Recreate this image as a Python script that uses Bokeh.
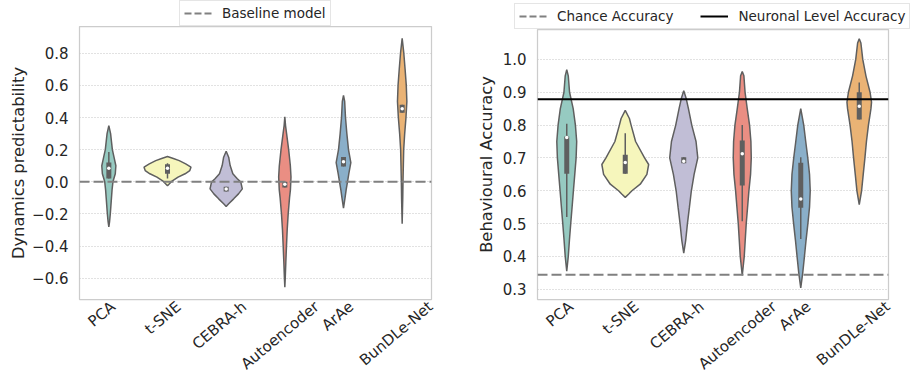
import math
from bokeh.plotting import figure
from bokeh.models import (Range1d, Span, Legend, LegendItem,
                          CustomJSTickFormatter, FixedTicker)
from bokeh.layouts import row, column
from bokeh.embed import file_html
from bokeh.resources import INLINE

# ---------------- data ----------------
categories = ["PCA", "t-SNE", "CEBRA-h", "Autoencoder", "ArAe", "BunDLe-Net"]
fill_colors = ["#96cac1", "#f6f6bc", "#c1bed6", "#ea8e83", "#8aafc9", "#eab375"]

# Left panel: dynamics predictability — violin outlines (value levels, half widths)
dyn_kde_y = [
    [0.35, 0.30, 0.25, 0.20, 0.15, 0.10, 0.05, 0.0, -0.05, -0.10, -0.15, -0.20, -0.25, -0.28],
    [0.157, 0.145, 0.132, 0.112, 0.091, 0.070, 0.050, 0.029, 0.002, -0.025],
    [0.190, 0.153, 0.101, 0.050, 0.019, -0.002, -0.044, -0.075, -0.106, -0.137, -0.154],
    [0.405, 0.35, 0.30, 0.20, 0.10, 0.03, -0.05, -0.10, -0.20, -0.30, -0.40, -0.50, -0.60, -0.655],
    [0.537, 0.50, 0.40, 0.30, 0.20, 0.12, 0.05, 0.0, -0.05, -0.10, -0.164],
    [0.893, 0.80, 0.70, 0.60, 0.50, 0.40, 0.30, 0.20, 0.10, 0.0, -0.10, -0.26],
]
dyn_kde_w = [
    [0, 0.03, 0.045, 0.06, 0.09, 0.12, 0.11, 0.07, 0.055, 0.045, 0.035, 0.025, 0.012, 0],
    [0, 0.10, 0.20, 0.31, 0.40, 0.38, 0.30, 0.18, 0.07, 0],
    [0, 0.043, 0.068, 0.114, 0.19, 0.25, 0.275, 0.21, 0.128, 0.043, 0],
    [0, 0.012, 0.03, 0.065, 0.094, 0.105, 0.095, 0.08, 0.057, 0.04, 0.028, 0.017, 0.007, 0],
    [0, 0.02, 0.034, 0.057, 0.085, 0.125, 0.09, 0.068, 0.045, 0.026, 0],
    [0, 0.028, 0.05, 0.07, 0.08, 0.065, 0.043, 0.026, 0.02, 0.014, 0.01, 0],
]
dyn_q1 = [0.02, 0.05, -0.06, -0.035, 0.095, 0.43]
dyn_q3 = [0.12, 0.11, -0.03, 0.0, 0.155, 0.48]
dyn_lo = [0.02, 0.02, -0.06, -0.035, 0.095, 0.43]
dyn_hi = [0.185, 0.115, -0.03, 0.0, 0.155, 0.48]
dyn_med = [0.085, 0.085, -0.045, -0.015, 0.125, 0.455]
baseline_value = 0.0
dyn_ticks = [-0.6, -0.4, -0.2, 0.0, 0.2, 0.4, 0.6, 0.8]

# Right panel: behavioural accuracy
beh_kde_y = [
    [0.969, 0.95, 0.90, 0.85, 0.80, 0.75, 0.70, 0.65, 0.60, 0.55, 0.50, 0.45, 0.40, 0.355],
    [0.845, 0.82, 0.80, 0.75, 0.70, 0.68, 0.65, 0.62, 0.60, 0.59, 0.58],
    [0.905, 0.88, 0.85, 0.80, 0.75, 0.70, 0.65, 0.60, 0.55, 0.50, 0.45, 0.41],
    [0.963, 0.95, 0.90, 0.85, 0.80, 0.75, 0.70, 0.65, 0.60, 0.55, 0.50, 0.45, 0.40, 0.342],
    [0.85, 0.80, 0.75, 0.70, 0.65, 0.60, 0.55, 0.50, 0.45, 0.40, 0.35, 0.304],
    [1.063, 1.05, 1.00, 0.95, 0.90, 0.87, 0.85, 0.80, 0.75, 0.70, 0.65, 0.60, 0.558],
]
beh_kde_w = [
    [0, 0.026, 0.048, 0.11, 0.148, 0.17, 0.16, 0.137, 0.114, 0.091, 0.068, 0.046, 0.026, 0],
    [0, 0.071, 0.10, 0.177, 0.33, 0.40, 0.37, 0.256, 0.114, 0.06, 0],
    [0, 0.043, 0.08, 0.137, 0.21, 0.24, 0.177, 0.13, 0.097, 0.063, 0.034, 0],
    [0, 0.028, 0.048, 0.085, 0.125, 0.148, 0.154, 0.142, 0.114, 0.091, 0.068, 0.051, 0.034, 0],
    [0, 0.051, 0.085, 0.12, 0.15, 0.162, 0.15, 0.122, 0.091, 0.063, 0.034, 0],
    [0, 0.028, 0.06, 0.114, 0.185, 0.21, 0.20, 0.157, 0.123, 0.097, 0.068, 0.04, 0],
]
beh_q1 = [0.652, 0.652, 0.684, 0.616, 0.548, 0.817]
beh_q3 = [0.765, 0.71, 0.702, 0.753, 0.685, 0.90]
beh_lo = [0.52, 0.652, 0.684, 0.507, 0.453, 0.817]
beh_hi = [0.804, 0.775, 0.702, 0.80, 0.702, 0.93]
beh_med = [0.762, 0.686, 0.69, 0.713, 0.575, 0.857]
chance_value = 0.344
neuronal_value = 0.879
beh_ticks = [0.3, 0.4, 0.5, 0.6, 0.7, 0.8, 0.9, 1.0]

# ---------------- style ----------------
FONT = "DejaVu Sans"
TXT = "#262626"
EDGE = "#5f5f5f"
ANG = math.radians(40)
TICK_PX = 15
FIG_W = 455


def make_panel(ylabel, y_lo, y_hi, ticks, kde_y, kde_w, q1, q3, lo, hi, med,
               height, border_left, border_right, border_bottom, label_standoff):
    n = len(categories)
    p = figure(width=FIG_W, height=height, x_range=Range1d(0, n),
               y_range=Range1d(y_lo, y_hi), output_backend="svg", toolbar_location=None,
               min_border_left=border_left, min_border_right=border_right,
               min_border_top=0, min_border_bottom=border_bottom)
    p.background_fill_color = "white"
    p.border_fill_color = "white"
    p.outline_line_color = "#cccccc"
    p.outline_line_width = 1.25
    p.xgrid.grid_line_color = None
    p.ygrid.grid_line_color = "#c4c4c4"
    p.ygrid.grid_line_dash = "1 2"
    p.ygrid.grid_line_width = 1

    ax = p.yaxis[0]
    ax.ticker = FixedTicker(ticks=ticks)
    ax.formatter = CustomJSTickFormatter(code="return tick.toFixed(1).replace('-', '\u2212');")
    ax.axis_line_color = None
    ax.major_tick_line_color = None
    ax.minor_tick_line_color = None
    ax.major_tick_out = 0
    ax.major_label_text_font = FONT
    ax.major_label_text_font_size = f"{TICK_PX}px"
    ax.major_label_text_color = TXT
    ax.major_label_standoff = 11
    ax.axis_label = ylabel
    ax.axis_label_text_font = FONT
    ax.axis_label_text_font_size = "16.3px"
    ax.axis_label_text_font_style = "normal"
    ax.axis_label_text_color = TXT
    ax.axis_label_standoff = label_standoff

    centers = [i + 0.5 for i in range(n)]
    for i in range(n):
        c = centers[i]
        ys = list(kde_y[i]) + list(reversed(kde_y[i]))
        xs = [c + w for w in kde_w[i]] + [c - w for w in reversed(kde_w[i])]
        p.patch(xs, ys, fill_color=fill_colors[i], line_color=EDGE, line_width=1.5)

    p.segment(x0=centers, y0=lo, x1=centers, y1=hi, line_color=EDGE, line_width=1.5)
    p.segment(x0=centers, y0=q1, x1=centers, y1=q3, line_color=EDGE, line_width=5)
    p.scatter(x=centers, y=med, size=3.5, fill_color="white", line_color=None)

    # category labels: rotated 40 deg, centred on each category like matplotlib
    frame_w = FIG_W - border_left - border_right
    px_per_unit = frame_w / n
    tick_pos = []
    for i, cat in enumerate(categories):
        L = len(cat) * 0.6 * TICK_PX
        shift_px = (L / 2) * math.cos(ANG) - 6
        tick_pos.append(centers[i] + shift_px / px_per_unit)
    xa = p.xaxis[0]
    xa.ticker = FixedTicker(ticks=tick_pos)
    xa.formatter = CustomJSTickFormatter(args=dict(names=categories), code="return names[index];")
    xa.major_label_orientation = ANG
    xa.axis_line_color = None
    xa.major_tick_line_color = None
    xa.minor_tick_line_color = None
    xa.major_tick_out = 0
    xa.major_tick_in = 0
    xa.major_label_standoff = 5
    xa.major_label_text_font = FONT
    xa.major_label_text_font_size = f"{TICK_PX}px"
    xa.major_label_text_color = TXT
    return p


def legend_strip(height, entries, x_left):
    """A strip above the plot holding its legend."""
    s = figure(width=FIG_W, height=height, x_range=Range1d(0, 1), y_range=Range1d(0, 1),
               output_backend="svg", toolbar_location=None, x_axis_type=None, y_axis_type=None,
               min_border=0)
    s.outline_line_color = None
    s.grid.visible = False
    s.background_fill_color = "white"
    s.border_fill_color = "white"
    items = []
    for label, value, color, dash in entries:
        r = s.line(x=[0, 1], y=[value, value], line_color=color, line_width=2, line_dash=dash,
                   visible=False)
        items.append(LegendItem(label=label, renderers=[r]))
    lg = Legend(items=items, location=(x_left, 0.5), orientation="horizontal")
    lg.label_text_font = FONT
    lg.label_text_font_size = "13.5px"
    lg.label_text_color = TXT
    lg.glyph_width = 28
    lg.glyph_height = 16
    lg.label_height = 16
    lg.label_standoff = 10
    lg.padding = 4
    lg.spacing = 27
    lg.margin = 0
    lg.border_line_color = "#cccccc"
    lg.border_line_width = 1
    lg.background_fill_alpha = 1.0
    lg.inactive_fill_alpha = 0
    s.add_layout(lg, "center")
    return s


left = make_panel("Dynamics predictability", -0.732, 0.966, dyn_ticks,
                  dyn_kde_y, dyn_kde_w, dyn_q1, dyn_q3, dyn_lo, dyn_hi, dyn_med,
                  357, 79, 24, 84, 1)
right = make_panel("Behavioural Accuracy", 0.269, 1.091, beh_ticks,
                   beh_kde_y, beh_kde_w, beh_q1, beh_q3, beh_lo, beh_hi, beh_med,
                   354, 82, 22, 84, 4)

# reference lines
left.add_layout(Span(location=baseline_value, dimension="width", line_color="#808080",
                     line_width=2, line_dash="10 4"))
right.add_layout(Span(location=chance_value, dimension="width", line_color="#808080",
                      line_width=2, line_dash="10 4"))
right.add_layout(Span(location=neuronal_value, dimension="width", line_color="black",
                      line_width=2))

# left strip lines up with the plot frame below it; the right strip is wrapped in its
# own row so that its frame spans the whole strip (its legend is wider than the plot)
left_leg = legend_strip(26, [("Baseline model", baseline_value, "#808080", "7 3")], 100)
right_leg = legend_strip(29, [("Chance Accuracy", chance_value, "#808080", "7 3"),
                              ("Neuronal Level Accuracy", neuronal_value, "black", "solid")], 59)

layout = row(column(left_leg, left), column(row(right_leg), right))
open("out.html", "w").write(file_html(layout, INLINE))
